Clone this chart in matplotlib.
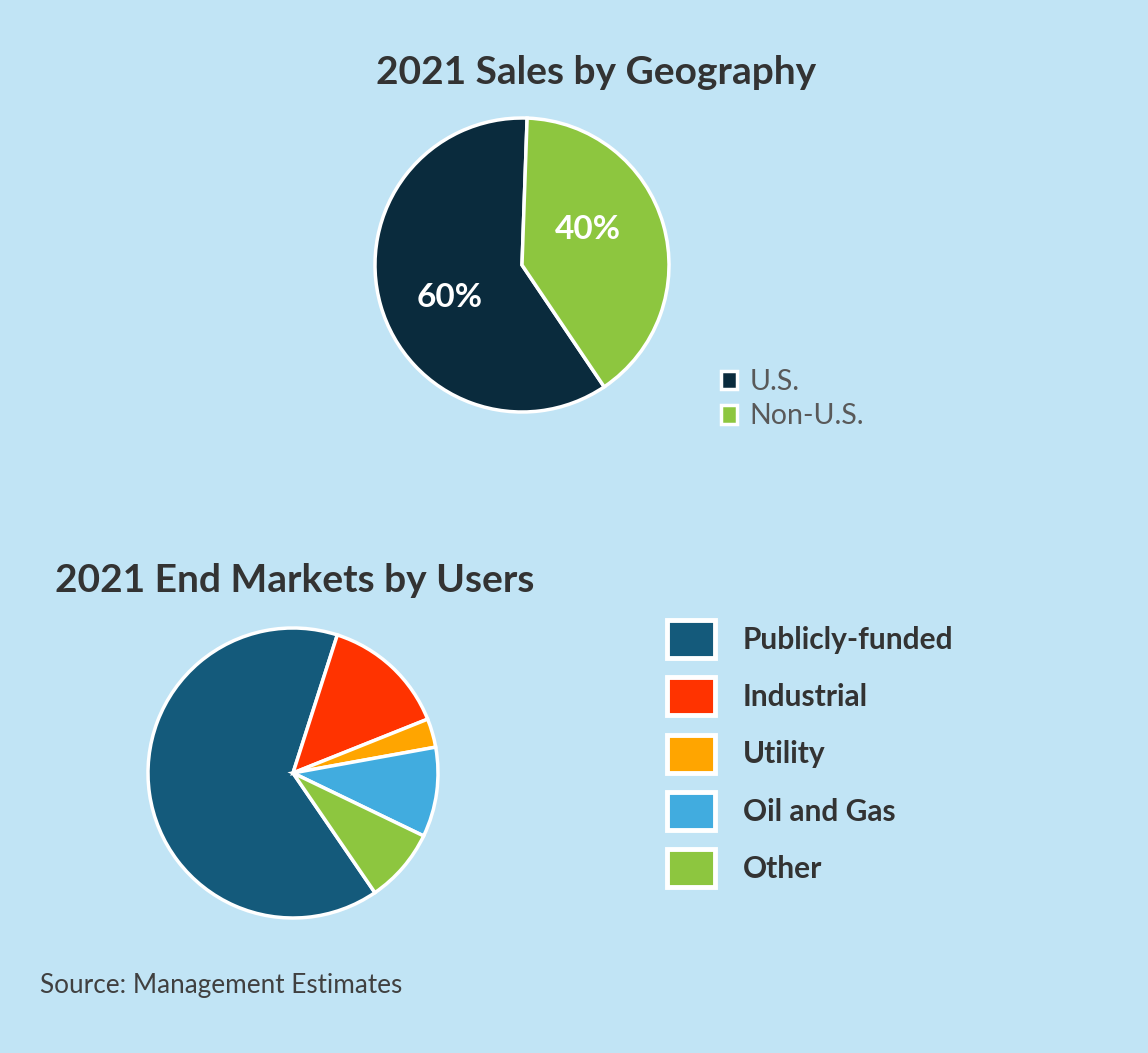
import matplotlib.pyplot as plt

plt.rcParams['font.family'] = ['Lato', 'DejaVu Sans']

# data
geo_labels = ["U.S.", "Non-U.S."]
geo_values = [60, 40]
geo_colors = ["#0a2b3d", "#8dc63f"]

market_labels = ["Publicly-funded", "Industrial", "Utility", "Oil and Gas", "Other"]
market_values = [64.5, 14, 3.2, 10, 8.3]
market_colors = ["#145a7b", "#ff3300", "#ffa500", "#41acdf", "#8dc63f"]

W, H = 1148, 1053
bg = "#c1e4f5"
fig = plt.figure(figsize=(W / 100, H / 100), dpi=100, facecolor=bg)


def px_axes(cx, cy, r):
    # axes box in figure fraction from a pixel centre and radius
    return fig.add_axes([(cx - r) / W, 1 - (cy + r) / H, 2 * r / W, 2 * r / H])


# top pie
ax1 = px_axes(522, 265, 147)
wedges1, _, pct1 = ax1.pie(geo_values, colors=geo_colors, startangle=88, counterclock=True,
                           autopct="%d%%", pctdistance=0.53,
                           wedgeprops=dict(edgecolor="white", linewidth=2.5),
                           textprops=dict(color="white", fontsize=24, fontweight="bold"))
pct1[0].set_position((-0.49, -0.22))
pct1[1].set_position((0.45, 0.24))
ax1.set_xlim(-1, 1)
ax1.set_ylim(-1, 1)
for w in wedges1:
    w.set_clip_on(False)

fig.text(596 / W, 1 - 72 / H, "2021 Sales by Geography", ha="center", va="center",
         fontsize=28, fontweight="bold", color="#333333")

leg1 = fig.legend(wedges1, geo_labels, loc="upper left", bbox_to_anchor=(721 / W, 1 - 369 / H),
                  frameon=False, fontsize=20.5, handlelength=0.55, handleheight=0.64,
                  handletextpad=0.45, labelspacing=0.29, borderpad=0, borderaxespad=0)
for t in leg1.get_texts():
    t.set_color("#595959")

# bottom pie
ax2 = px_axes(293, 773, 145)
wedges2, _ = ax2.pie(market_values, colors=market_colors, startangle=-55.6, counterclock=False,
                     wedgeprops=dict(edgecolor="white", linewidth=2.5))
ax2.set_xlim(-1, 1)
ax2.set_ylim(-1, 1)
for w in wedges2:
    w.set_clip_on(False)

fig.text(55 / W, 1 - 580 / H, "2021 End Markets by Users", ha="left", va="center",
         fontsize=28, fontweight="bold", color="#333333")

leg2 = fig.legend(wedges2, market_labels, loc="upper left", bbox_to_anchor=(667 / W, 1 - 620 / H),
                  frameon=False, fontsize=21.5, handlelength=1.6, handleheight=1.59,
                  handletextpad=0.93, labelspacing=0.64, borderpad=0, borderaxespad=0)
for t in leg2.get_texts():
    t.set_color("#333333")
    t.set_fontweight("bold")
for h in leg2.legend_handles:
    h.set_linewidth(3.5)

fig.text(40 / W, 1 - 985 / H, "Source: Management Estimates", ha="left", va="center",
         fontsize=18.8, color="#404040")

fig.savefig("out.png", dpi=100, facecolor=bg)
